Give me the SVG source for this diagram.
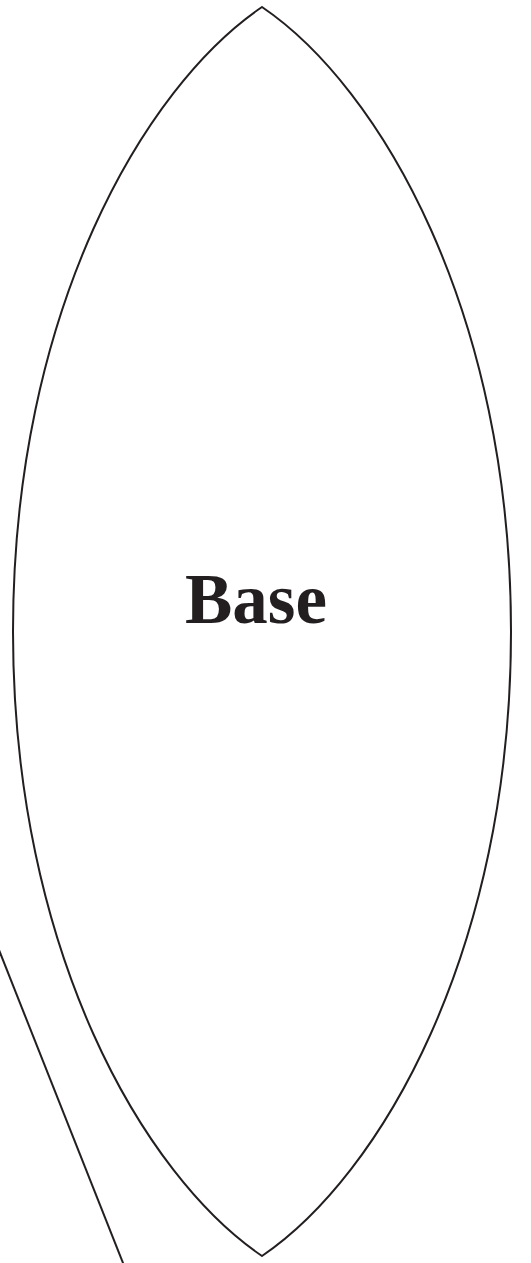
<svg xmlns="http://www.w3.org/2000/svg" width="531" height="1263" viewBox="0 0 531 1263">
  <style>
    .shape { fill: #ffffff; stroke: #231f20; stroke-width: 2; }
    .conn { fill: none; stroke: #231f20; stroke-width: 2; }
    .label { font-family: "Liberation Serif", "Times New Roman", serif; font-weight: bold; font-size: 71px; fill: #231f20; }
  </style>
  <rect width="531" height="1263" fill="#ffffff"/>
  <g id="connectors">
    <path class="conn" d="M -3,945 L 125,1268"/>
  </g>
  <g id="node-base">
    <path class="shape" d="M 262,7 C 144,87 13,311.5 13,631.5 C 13,951.5 144,1176 262,1256 C 380,1176 511,951.5 511,631.5 C 511,311.5 380,87 262,7 Z"/>
    <text class="label" x="256" y="623" text-anchor="middle">Base</text>
  </g>
</svg>
